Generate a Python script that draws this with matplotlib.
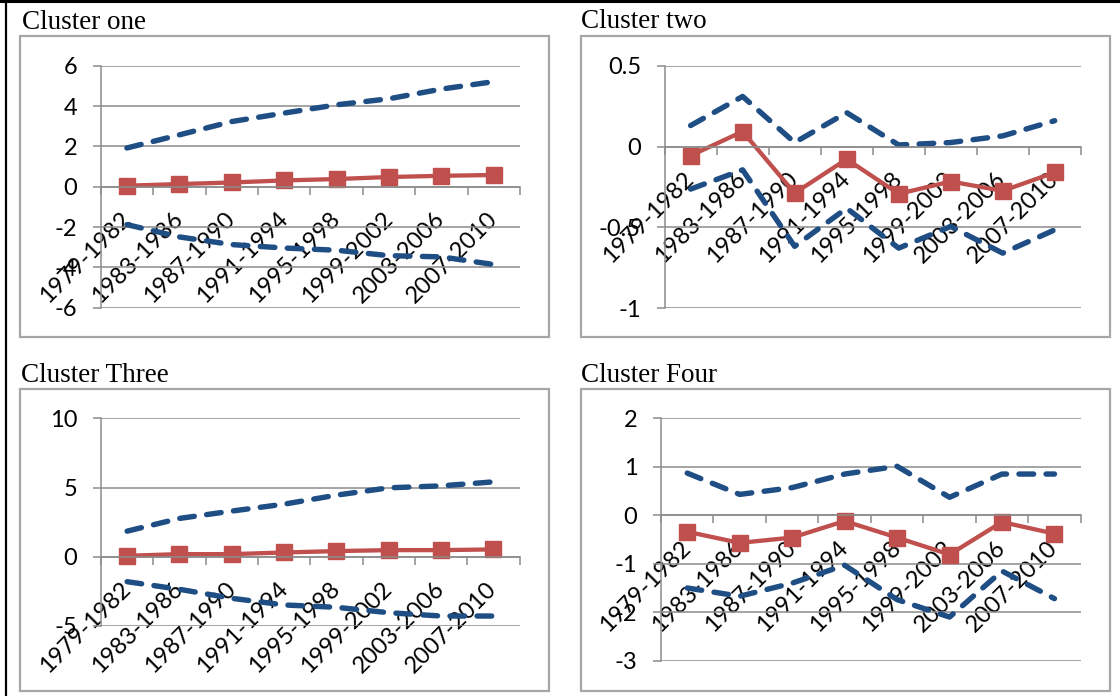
import matplotlib
matplotlib.use("Agg")
import matplotlib.pyplot as plt
from matplotlib.patches import Rectangle
from matplotlib.lines import Line2D
from matplotlib.ticker import FuncFormatter, FixedLocator

plt.rcParams["axes.unicode_minus"] = False

periods = ["1979-1982", "1983-1986", "1987-1990", "1991-1994",
           "1995-1998", "1999-2002", "2003-2006", "2007-2010"]

c1_upper = [1.92, 2.57, 3.23, 3.65, 4.06, 4.36, 4.84, 5.21]
c1_mean = [0.05, 0.13, 0.21, 0.31, 0.38, 0.48, 0.54, 0.58]
c1_lower = [-1.88, -2.49, -2.87, -3.04, -3.15, -3.42, -3.48, -3.86]

c2_upper = [0.13, 0.31, 0.025, 0.21, 0.01, 0.025, 0.066, 0.16]
c2_mean = [-0.056, 0.093, -0.288, -0.078, -0.292, -0.216, -0.274, -0.16]
c2_lower = [-0.263, -0.144, -0.617, -0.381, -0.628, -0.494, -0.659, -0.515]

c3_upper = [1.85, 2.77, 3.30, 3.80, 4.45, 4.98, 5.12, 5.41]
c3_mean = [0.07, 0.19, 0.19, 0.31, 0.41, 0.48, 0.48, 0.53]
c3_lower = [-1.80, -2.35, -3.00, -3.48, -3.65, -4.04, -4.28, -4.28]

c4_upper = [0.87, 0.43, 0.57, 0.85, 1.01, 0.37, 0.85, 0.85]
c4_mean = [-0.34, -0.57, -0.46, -0.12, -0.46, -0.81, -0.14, -0.38]
c4_lower = [-1.50, -1.67, -1.40, -1.03, -1.74, -2.10, -1.15, -1.72]

titles = ["Cluster one", "Cluster two", "Cluster Three", "Cluster Four"]
y_ticks = [[-6, -4, -2, 0, 2, 4, 6],
           [-1, -0.5, 0, 0.5],
           [-5, 0, 5, 10],
           [-3, -2, -1, 0, 1, 2]]

W, H = 1120, 696
NAVY = "#1F4E85"
RED = "#C0504D"
GRID = "#8C8C8C"
FRAME = "#A6A6A6"
TICK_FONT = "Lato"
TICK_SIZE = 17

fig = plt.figure(figsize=(W / 100, H / 100), dpi=100)


def px_rect(x0, y0, x1, y1):
    """Axes rect in figure fractions from pixel edges (top-left origin)."""
    return [x0 / W, 1 - y1 / H, (x1 - x0) / W, (y1 - y0) / H]


# panel layout: plot area edges, chart frame, title anchor
panels = [
    dict(plot=(100.7, 65.7, 520.0, 307.7), frame=(20, 36, 549, 337), title=(22, 29)),
    dict(plot=(664.6, 65.7, 1080.7, 308.3), frame=(581, 36, 1110, 337), title=(581, 28.5)),
    dict(plot=(101.0, 418.3, 519.6, 626.0), frame=(20, 389, 549, 690.5), title=(21, 381.5)),
    dict(plot=(661.0, 418.3, 1080.7, 660.7), frame=(581, 389, 1110, 690.5), title=(581, 381.5)),
]

series = [
    (c1_upper, c1_mean, c1_lower),
    (c2_upper, c2_mean, c2_lower),
    (c3_upper, c3_mean, c3_lower),
    (c4_upper, c4_mean, c4_lower),
]


def fmt(v, _pos):
    if abs(v - round(v)) < 1e-9:
        return "%d" % int(round(v))
    return "%g" % v


xs = list(range(len(periods)))

for panel, (upper, mean, lower), title, ticks in zip(panels, series, titles, y_ticks):
    fx0, fy0, fx1, fy1 = panel["frame"]
    fig.patches.append(Rectangle((fx0 / W, 1 - fy1 / H), (fx1 - fx0) / W, (fy1 - fy0) / H,
                                 transform=fig.transFigure, fill=False,
                                 edgecolor=FRAME, linewidth=1.6, zorder=0))
    tx, ty = panel["title"]
    fig.text(tx / W, 1 - ty / H, title, family="Liberation Serif", fontsize=19.5,
             ha="left", va="baseline", color="black")

    ax = fig.add_axes(px_rect(*panel["plot"]))
    ax.set_facecolor("none")
    ax.set_axisbelow(True)

    # category axis crosses the value axis at zero
    ax.spines["bottom"].set_position(("data", 0))
    for side in ("bottom", "left"):
        ax.spines[side].set_color(GRID)
        ax.spines[side].set_linewidth(1.1)
    for side in ("top", "right"):
        ax.spines[side].set_visible(False)

    for vals in (upper, lower):
        ax.plot(xs, vals, color=NAVY, linewidth=3.9, linestyle=(0, (2.7, 2.3)),
                dash_capstyle="round", solid_capstyle="round", zorder=2.0)
    ax.plot(xs, mean, color=RED, linewidth=3.1, marker="s", markersize=11.5,
            markeredgecolor=RED, markerfacecolor=RED, zorder=2.2)

    ax.set_xlim(-0.5, len(periods) - 0.5)
    ax.set_ylim(ticks[0], ticks[-1])

    ax.tick_params(axis="y", direction="out", length=6, width=1.1, color=GRID,
                   pad=11, labelsize=TICK_SIZE, labelcolor="black",
                   labelfontfamily=TICK_FONT)
    ax.tick_params(axis="x", which="major", length=0, pad=21, labelsize=TICK_SIZE,
                   labelfontfamily=TICK_FONT, labelcolor="black",
                   labelrotation=45)
    ax.tick_params(axis="x", which="minor", direction="out", length=6, width=1.1,
                   color=GRID)

    ax.yaxis.set_major_locator(FixedLocator(ticks))
    ax.yaxis.set_major_formatter(FuncFormatter(fmt))
    ax.grid(axis="y", color=GRID, linewidth=1.1)

    ax.set_xticks(xs)
    ax.set_xticks([x - 0.5 for x in xs] + [len(periods) - 0.5], minor=True)
    ax.set_xticklabels(periods)
    for lab in ax.get_xticklabels():
        lab.set_rotation(45)
        lab.set_ha("right")
        lab.set_va("center")
        lab.set_rotation_mode("anchor")

# outer black rules along the top and left edges
fig.lines.append(Line2D([0, 1], [1 - 1.2 / H, 1 - 1.2 / H], transform=fig.transFigure,
                        color="black", linewidth=2.2))
fig.lines.append(Line2D([5.5 / W, 5.5 / W], [0, 1], transform=fig.transFigure,
                        color="black", linewidth=1.6))

fig.savefig("out.png", dpi=100, facecolor="white")
